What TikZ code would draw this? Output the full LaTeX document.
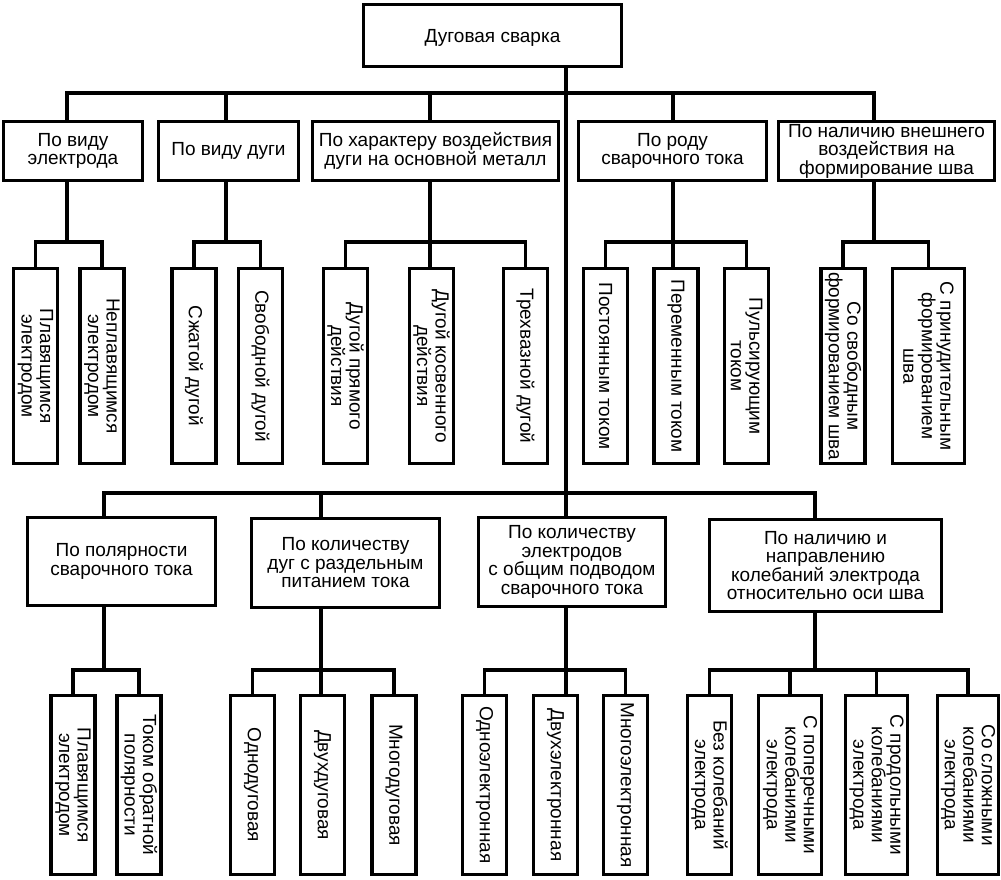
\documentclass[tikz,border=0pt]{standalone}
\usepackage{fontspec}
\setmainfont{Liberation Sans}
\begin{document}
\begin{tikzpicture}[x=1pt, y=-1pt, line width=3.5pt,
    every node/.style={font=\fontsize{19}{18.5}\selectfont},
    box/.style={draw, align=center, inner sep=1pt},
    group/.style={box, minimum height=59pt},
    leaf/.style={box, rotate=-90, minimum width=195pt, minimum height=44pt},
    lowleaf/.style={box, rotate=-90, minimum width=179pt, minimum height=44pt}]
    \useasboundingbox (0,0) rectangle (1001,879);
    \node[box, minimum width=258pt, minimum height=62pt, text depth=-6pt] (root) at (492.5,35.5) {Дуговая сварка};

    \node[group, minimum width=139pt] (b1) at (73,151) {По виду\\электрода};
    \node[group, minimum width=140pt] (b2) at (228.5,151) {По виду дуги};
    \node[group, minimum width=246pt] (b3) at (435.5,151) {По характеру воздействия\\дуги на основной металл};
    \node[group, minimum width=188pt] (b4) at (672.5,151) {По роду\\сварочного тока};
    \node[group, minimum width=216pt] (b5) at (886.5,151) {По наличию внешнего\\воздействия на\\формирование шва};

    \node[leaf] (a1) at (35.5,366) {Плавящимся\\электродом};
    \node[leaf] (a2) at (102,366) {Неплавящимся\\электродом};
    \node[leaf] (a3) at (194,366) {Сжатой дугой};
    \node[leaf] (a4) at (260.5,366) {Свободной дугой};
    \node[leaf] (a5) at (345.5,366) {Дугой прямого\\действия};
    \node[leaf] (a6) at (431.5,366) {Дугой косвенного\\действия};
    \node[leaf] (a7) at (525.5,366) {Трехвазной дугой};
    \node[leaf] (a8) at (605.5,366) {Постоянным током};
    \node[leaf] (a9) at (676,366) {Переменным током};
    \node[leaf] (a10) at (746.5,366) {Пульсирующим\\током};
    \node[leaf] (a11) at (843,366) {Со свободным\\формированием шва};
    \node[leaf, minimum height=72pt] (a12) at (928.5,366) {С принудительным\\формированием\\шва};

    \node[box, minimum width=188pt, minimum height=88pt] (l1) at (121.5,561.5) {По полярности\\сварочного тока};
    \node[box, minimum width=188pt, minimum height=89pt] (l2) at (345.5,563) {По количеству\\дуг с раздельным\\питанием тока};
    \node[box, minimum width=187pt, minimum height=89pt] (l3) at (572,562) {По количеству\\электродов\\с общим подводом\\сварочного тока};
    \node[box, minimum width=232pt, minimum height=92pt] (l4) at (825.5,565.5) {По наличию и\\направлению\\колебаний электрода\\относительно оси шва};

    \node[lowleaf] (c1) at (73,785) {Плавящимся\\электродом};
    \node[lowleaf] (c2) at (139,785) {Током обратной\\полярности};
    \node[lowleaf] (c3) at (252.5,785) {Однодуговая};
    \node[lowleaf] (c4) at (322.5,785) {Двухдуговая};
    \node[lowleaf] (c5) at (394,785) {Многодуговая};
    \node[lowleaf] (c6) at (484.5,785) {Одноэлектронная};
    \node[lowleaf] (c7) at (555.5,785) {Двухэлектронная};
    \node[lowleaf] (c8) at (625.5,785) {Многоэлектронная};
    \node[lowleaf] (c9) at (709.5,785) {Без колебаний\\электрода};
    \node[lowleaf, minimum height=63pt] (c10) at (790,785) {С поперечными\\колебаниями\\электрода};
    \node[lowleaf, minimum height=62pt] (c11) at (876.5,785) {С продольными\\колебаниями\\электрода};
    \node[lowleaf, minimum height=61pt] (c12) at (968,785) {Со сложными\\колебаниями\\электрода};

    \coordinate (k1) at (67,93);
    \coordinate (k2) at (226,93);
    \coordinate (k3) at (430,93);
    \coordinate (k4) at (673,93);
    \coordinate (k5) at (874,93);
    \coordinate (tr) at (566,0);
    \coordinate (m1) at (104,493);
    \coordinate (m2) at (321,493);
    \coordinate (m4) at (815,493);
    \coordinate (j1) at (67,242);
    \coordinate (j2) at (226,242);
    \coordinate (j3) at (430,242);
    \coordinate (j4) at (673,242);
    \coordinate (j5) at (874,242);
    \coordinate (n1) at (104,670);
    \coordinate (n2) at (321,670);
    \coordinate (n3) at (566,670);
    \coordinate (n4) at (815,670);

    \draw (b1.north -| k1) |- (k5) -- (b5.north -| k5);
    \draw (k2) -- (b2.north -| k2);
    \draw (k3) -- (b3.north -| k3);
    \draw (k4) -- (b4.north -| k4);
    \draw (root.south -| tr) -- (l3.north -| tr);
    \draw (l1.north -| m1) |- (m4) -- (l4.north -| m4);
    \draw (m2) -- (l2.north -| m2);

    \draw (b1.south -| j1) -- (j1);
    \draw (a1.west) |- (j1) -| (a2.west);
    \draw (b2.south -| j2) -- (j2);
    \draw (a3.west) |- (j2) -| (a4.west);
    \draw (b3.south -| j3) -- (j3 |- a6.west);
    \draw (a5.west) |- (j3) -| (a7.west);
    \draw (b4.south -| j4) -- (j4 |- a9.west);
    \draw (a8.west) |- (j4) -| (a10.west);
    \draw (b5.south -| j5) -- (j5);
    \draw (a11.west) |- (j5) -| (a12.west);

    \draw (l1.south -| n1) -- (n1);
    \draw (c1.west) |- (n1) -| (c2.west);
    \draw (l2.south -| n2) -- (n2 |- c4.west);
    \draw (c3.west) |- (n2) -| (c5.west);
    \draw (l3.south -| n3) -- (n3 |- c7.west);
    \draw (c6.west) |- (n3) -| (c8.west);
    \draw (l4.south -| n4) -- (n4);
    \draw (c9.west) |- (n4) -| (c12.west);
    \draw (c10.west) -- (c10.west |- n4);
    \draw (c11.west) -- (c11.west |- n4);
\end{tikzpicture}
\end{document}
